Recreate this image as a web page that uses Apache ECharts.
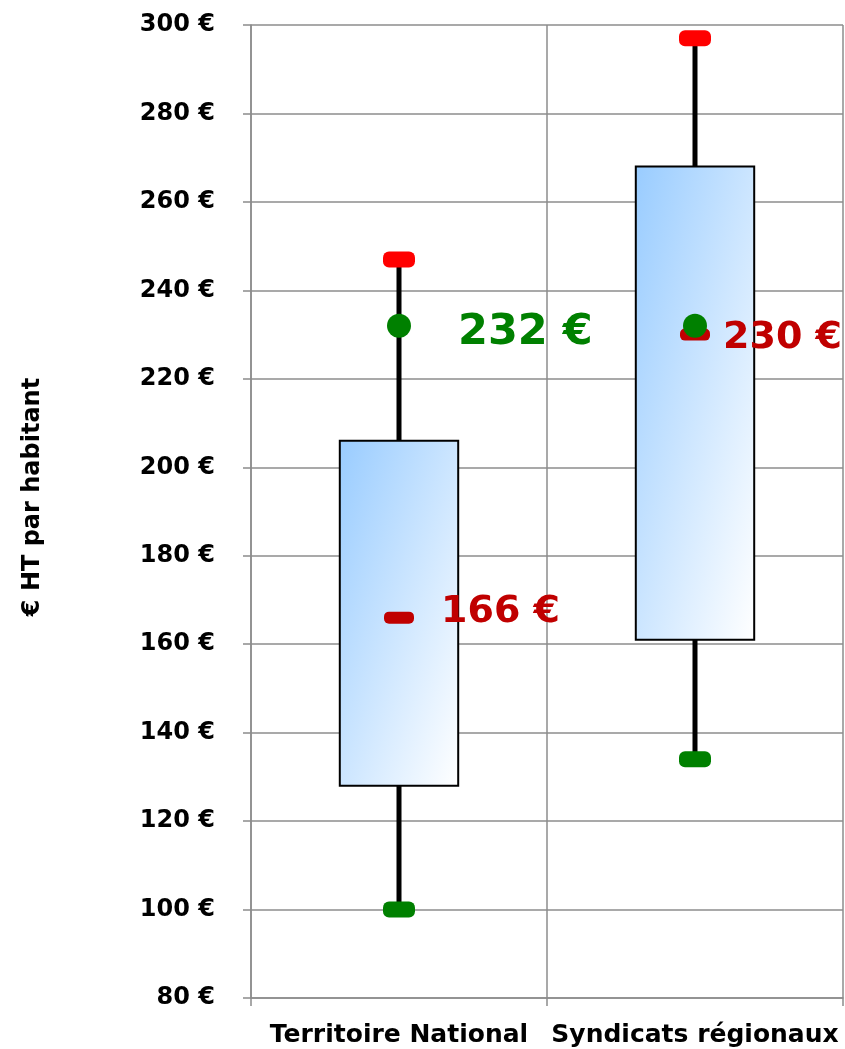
<!DOCTYPE html>
<html>
<head>
<meta charset="utf-8">
<script src="https://cdn.jsdelivr.net/npm/echarts@6/dist/echarts.min.js"></script>
<style>html,body{margin:0;padding:0;background:#fff;}#c{width:845px;height:1049px;}</style>
</head>
<body>
<div id="c"></div>
<script>
// ---- data ----
var categories = ['Territoire National', 'Syndicats régionaux'];
var minVals    = [100, 134];
var q1Vals     = [128, 161];
var medianVals = [166, 230];
var q3Vals     = [206, 268];
var maxVals    = [247, 297];
var meanVals   = [232, 232];
var medianLabels = ['166 €', '230 €'];
var meanLabels   = ['232 €', ''];
var yMin = 80, yMax = 300, yStep = 20;
var yAxisTitle = '€ HT par habitant';

// ---- layout / style (not data) ----
var FONT = '"DejaVu Sans", Verdana, sans-serif';
var meanLabelOffset   = [[59, 7], [0, 0]];
var medianLabelOffset = [[42, -6], [28, 4]];
var meanLabelSize   = 43;
var medianLabelSize = 38;

var rows = categories.map(function (c, i) {
  return [i, minVals[i], q1Vals[i], medianVals[i], q3Vals[i], maxVals[i], meanVals[i]];
});

function renderItem(params, api) {
  var i = api.value(0);
  var pMin = api.coord([i, api.value(1)]);
  var pQ1 = api.coord([i, api.value(2)]);
  var pMed = api.coord([i, api.value(3)]);
  var pQ3 = api.coord([i, api.value(4)]);
  var pMax = api.coord([i, api.value(5)]);
  var pMean = api.coord([i, api.value(6)]);
  var cx = pMin[0];
  var band = api.size([1, 0])[0];
  var bw = band * 0.4;
  var bx = cx - bw / 2;
  var children = [];
  children.push({ type: 'line', shape: { x1: cx, y1: pMin[1], x2: cx, y2: pMax[1] },
    style: { stroke: '#000', lineWidth: 5 } });
  var h = pQ1[1] - pQ3[1];
  var k = 2 * bw * h / (h * h + bw * bw);
  children.push({ type: 'rect', shape: { x: bx, y: pQ3[1], width: bw, height: h },
    style: {
      fill: new echarts.graphic.LinearGradient(bx, pQ3[1], bx + h * k, pQ3[1] + bw * k,
        [{ offset: 0, color: '#99ccff' }, { offset: 1, color: '#ffffff' }], true),
      stroke: '#000', lineWidth: 2
    } });
  children.push({ type: 'rect', shape: { x: cx - 16, y: pMax[1] - 8, width: 32, height: 16, r: 6 },
    style: { fill: '#ff0000' } });
  children.push({ type: 'rect', shape: { x: cx - 16, y: pMin[1] - 8, width: 32, height: 16, r: 6 },
    style: { fill: '#008000' } });
  children.push({ type: 'rect', shape: { x: cx - 15, y: pMed[1] - 6, width: 30, height: 12, r: 5 },
    style: { fill: '#c00000' } });
  children.push({ type: 'circle', shape: { cx: cx, cy: pMean[1], r: 12 },
    style: { fill: '#008000' } });
  if (medianLabels[i]) {
    children.push({ type: 'text', style: {
      text: medianLabels[i], x: cx + medianLabelOffset[i][0], y: pMed[1] + medianLabelOffset[i][1],
      fill: '#c00000', font: 'bold ' + medianLabelSize + 'px ' + FONT,
      align: 'left', verticalAlign: 'middle' } });
  }
  if (meanLabels[i]) {
    children.push({ type: 'text', style: {
      text: meanLabels[i], x: cx + meanLabelOffset[i][0], y: pMean[1] + meanLabelOffset[i][1],
      fill: '#008000', font: 'bold ' + meanLabelSize + 'px ' + FONT,
      align: 'left', verticalAlign: 'middle' } });
  }
  return { type: 'group', children: children };
}

var gridColor = '#8c8c8c';
var chart = echarts.init(document.getElementById('c'), null, { renderer: 'canvas' });
chart.setOption({
  animation: false,
  backgroundColor: '#fff',
  grid: { left: 251, right: 2, top: 25, bottom: 51, containLabel: false },
  graphic: [{
    type: 'text', x: 33, y: 497, rotation: Math.PI / 2,
    style: { text: yAxisTitle, fill: '#000', font: 'bold 24px ' + FONT,
      align: 'center', verticalAlign: 'middle' }
  }],
  xAxis: {
    type: 'category', data: categories, boundaryGap: true,
    axisLine: { show: true, lineStyle: { color: gridColor, width: 1.5 } },
    axisTick: { show: true, length: 8, lineStyle: { color: gridColor, width: 1.5 } },
    splitLine: { show: true, lineStyle: { color: gridColor, width: 1.5 } },
    axisLabel: { interval: 0, color: '#000', fontFamily: FONT, fontWeight: 'bold', fontSize: 25, margin: 25 }
  },
  yAxis: {
    type: 'value', min: yMin, max: yMax, interval: yStep,
    axisLine: { show: true, lineStyle: { color: gridColor, width: 1.5 } },
    axisTick: { show: true, length: 8, lineStyle: { color: gridColor, width: 1.5 } },
    splitLine: { show: true, lineStyle: { color: gridColor, width: 1.5 } },
    axisLabel: { color: '#000', fontFamily: FONT, fontWeight: 'bold', fontSize: 24, margin: 36,
      formatter: function (v) { return v + ' €'; } }
  },
  series: [{
    type: 'custom', renderItem: renderItem, data: rows,
    encode: { x: 0, y: [1, 2, 3, 4, 5, 6] }, clip: false
  }]
});
</script>
</body>
</html>
